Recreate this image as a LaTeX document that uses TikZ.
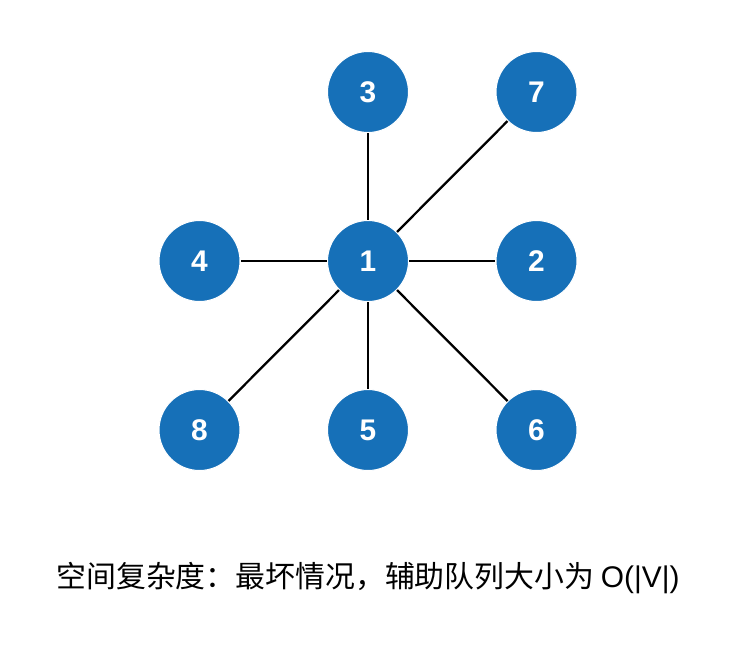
\documentclass[tikz,border=0pt]{standalone}
\usepackage{fontspec}
\setmainfont{Liberation Sans}
\newfontfamily\cjk{Noto Sans CJK SC}
\usetikzlibrary{positioning}
\definecolor{nodeblue}{RGB}{22,112,184}

\begin{document}
\begin{tikzpicture}[node distance=3.38cm and 3.37cm, on grid,
  vtx/.style={circle, fill=nodeblue, draw=white, line width=0.6pt, minimum size=1.62cm, inner sep=0pt, text=white, font=\fontsize{17}{19}\selectfont\bfseries},
  edge/.style={line width=1.3pt, black}]
\useasboundingbox (0,0) rectangle (14.7,-12.92);
\node[vtx] (v1) at (7.36,-5.22) {1};
\node[vtx, above=of v1] (v3) {3};
\node[vtx, right=of v3] (v7) {7};
\node[vtx, left=of v1] (v4) {4};
\node[vtx, right=of v1] (v2) {2};
\node[vtx, below=of v1] (v5) {5};
\node[vtx, left=of v5] (v8) {8};
\node[vtx, right=of v5] (v6) {6};
\draw[edge] (v1) -- (v3);
\draw[edge] (v1) -- (v7);
\draw[edge] (v1) -- (v4);
\draw[edge] (v1) -- (v2);
\draw[edge] (v1) -- (v8);
\draw[edge] (v1) -- (v5);
\draw[edge] (v1) -- (v6);
\node[font=\fontsize{17}{19}\selectfont] (caption) at (7.36,-11.56) {\cjk 空间复杂度：最坏情况，辅助队列大小为 \rmfamily O(|V|)};
\end{tikzpicture}
\end{document}
